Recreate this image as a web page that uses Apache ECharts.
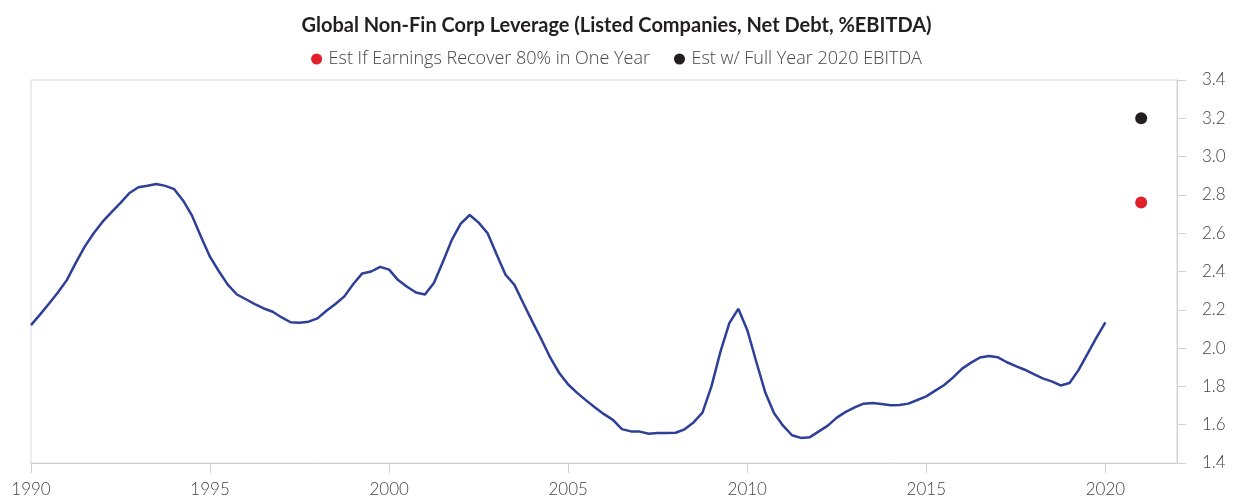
<!DOCTYPE html>
<html>
<head>
<meta charset="utf-8">
<script src="https://cdn.jsdelivr.net/npm/echarts@6/dist/echarts.min.js"></script>
<style>
html,body{margin:0;padding:0;background:#fff;}
#chart{width:1233px;height:500px;}
</style>
</head>
<body>
<div id="chart"></div>
<script>
// Quarterly observations, starting 1990 Q1 (step of a quarter year)
const startYear = 1990;
const leverage = [
  /*1990*/ 2.12, 2.175, 2.232, 2.29,
  /*1991*/ 2.355, 2.445, 2.53, 2.60,
  /*1992*/ 2.66, 2.71, 2.758, 2.81,
  /*1993*/ 2.84, 2.848, 2.857, 2.847,
  /*1994*/ 2.83, 2.77, 2.69, 2.58,
  /*1995*/ 2.476, 2.40, 2.33, 2.28,
  /*1996*/ 2.255, 2.23, 2.207, 2.19,
  /*1997*/ 2.16, 2.135, 2.132, 2.138,
  /*1998*/ 2.155, 2.195, 2.23, 2.27,
  /*1999*/ 2.335, 2.39, 2.40, 2.424,
  /*2000*/ 2.41, 2.355, 2.32, 2.29,
  /*2001*/ 2.28, 2.34, 2.45, 2.565,
  /*2002*/ 2.65, 2.695, 2.655, 2.60,
  /*2003*/ 2.49, 2.383, 2.33, 2.233,
  /*2004*/ 2.138, 2.046, 1.95, 1.87,
  /*2005*/ 1.81, 1.766, 1.727, 1.69,
  /*2006*/ 1.655, 1.625, 1.577, 1.565,
  /*2007*/ 1.564, 1.553, 1.557, 1.557,
  /*2008*/ 1.558, 1.576, 1.612, 1.663,
  /*2009*/ 1.80, 1.98, 2.13, 2.205,
  /*2010*/ 2.095, 1.93, 1.77, 1.66,
  /*2011*/ 1.595, 1.545, 1.531, 1.535,
  /*2012*/ 1.565, 1.595, 1.637, 1.667,
  /*2013*/ 1.69, 1.71, 1.713, 1.708,
  /*2014*/ 1.701, 1.703, 1.71, 1.729,
  /*2015*/ 1.748, 1.778, 1.807, 1.847,
  /*2016*/ 1.893, 1.924, 1.951, 1.959,
  /*2017*/ 1.952, 1.926, 1.906, 1.887,
  /*2018*/ 1.864, 1.842, 1.826, 1.805,
  /*2019*/ 1.818, 1.885, 1.97, 2.055,
  /*2020*/ 2.134
];
const estYear = 2021;
const estRecover = 2.76;   // Est If Earnings Recover 80% in One Year
const estFullYear = 3.20;  // Est w/ Full Year 2020 EBITDA
const xTicks = [1990, 1995, 2000, 2005, 2010, 2015, 2020];
const yTicks = [1.4, 1.6, 1.8, 2.0, 2.2, 2.4, 2.6, 2.8, 3.0, 3.2, 3.4];
const seriesNames = ['Est If Earnings Recover 80% in One Year', 'Est w/ Full Year 2020 EBITDA'];
const titleText = 'Global Non-Fin Corp Leverage (Listed Companies, Net Debt, %EBITDA)';

const lineData = leverage.map((v, i) => [startYear + i / 4, v]);

const FONT = 'Lato, "Open Sans", sans-serif';
const chart = echarts.init(document.getElementById('chart'), null, {renderer: 'canvas'});
chart.setOption({
  animation: false,
  backgroundColor: '#ffffff',
  title: {
    text: titleText,
    left: 'center',
    top: 11,
    textStyle: {fontFamily: FONT, fontSize: 20, fontWeight: 'bold', color: '#231f20'}
  },
  legend: {
    data: seriesNames,
    top: 45,
    left: 'center',
    icon: 'circle',
    itemWidth: 14,
    itemHeight: 11,
    itemGap: 24,
    textStyle: {fontFamily: '"Open Sans", Lato, sans-serif', fontSize: 18, color: '#444', fontWeight: 300}
  },
  grid: {
    left: 31, right: 56, top: 80, bottom: 37,
    show: true, borderColor: '#d9d9d9', borderWidth: 1
  },
  xAxis: {
    type: 'value',
    min: 1990, max: 2022, interval: 5,
    axisLine: {show: true, lineStyle: {color: '#d0d0d0', width: 1}},
    axisTick: {show: true, length: 10, lineStyle: {color: '#d0d0d0'}, customValues: xTicks},
    axisLabel: {
      customValues: xTicks,
      margin: 18,
      fontFamily: FONT, fontSize: 17, color: '#444', fontWeight: 300,
      formatter: v => String(v)
    },
    splitLine: {show: false}
  },
  yAxis: {
    type: 'value',
    position: 'right',
    min: 1.4, max: 3.4, interval: 0.2,
    axisLine: {show: true, lineStyle: {color: '#d0d0d0', width: 1}},
    axisTick: {show: true, length: 9, lineStyle: {color: '#d0d0d0'}},
    axisLabel: {
      margin: 25,
      fontFamily: FONT, fontSize: 17, color: '#444', fontWeight: 300,
      formatter: v => v.toFixed(1)
    },
    splitLine: {show: false}
  },
  series: [
    {
      name: 'Leverage',
      type: 'line',
      data: lineData,
      showSymbol: false,
      smooth: false,
      lineStyle: {color: '#2e3f98', width: 2.5},
      itemStyle: {color: '#2e3f98'},
      z: 3
    },
    {
      name: seriesNames[0],
      type: 'scatter',
      data: [[estYear, estRecover]],
      symbol: 'circle',
      symbolSize: 12,
      itemStyle: {color: '#e0202b', opacity: 1}
    },
    {
      name: seriesNames[1],
      type: 'scatter',
      data: [[estYear, estFullYear]],
      symbol: 'circle',
      symbolSize: 12,
      itemStyle: {color: '#231f20', opacity: 1}
    }
  ]
});
</script>
</body>
</html>
